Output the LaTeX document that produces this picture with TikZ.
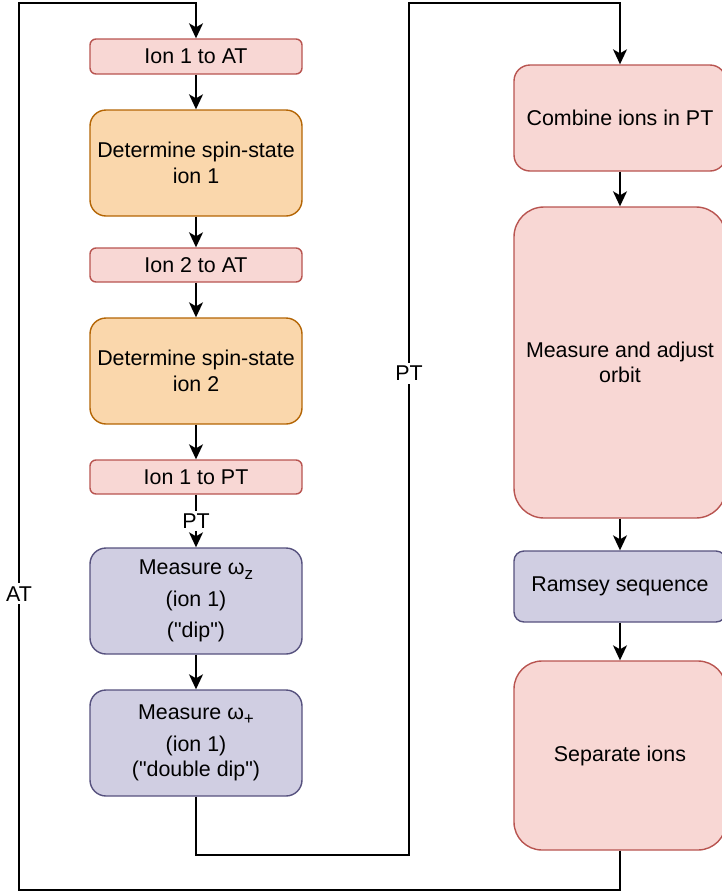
\documentclass[tikz,border=0pt]{standalone}
\usepackage{fontspec}
\setmainfont{Liberation Sans}
\usetikzlibrary{arrows.meta, calc}
\definecolor{ionred}{HTML}{F8D7D4}
\definecolor{ionredline}{HTML}{B85450}
\definecolor{spinorange}{HTML}{FAD7AC}
\definecolor{spinorangeline}{HTML}{B46504}
\definecolor{freqblue}{HTML}{D0CEE2}
\definecolor{freqblueline}{HTML}{56517E}
\newcommand{\lowsub}[1]{\raisebox{-0.45ex}{\fontsize{8.5}{10}\selectfont #1}}

\tikzset{
  box/.style={draw, line width=0.7pt, align=center, inner sep=2pt,
              minimum width=106pt},
  redbox/.style={box, fill=ionred, draw=ionredline, rounded corners=#1},
  redbox/.default=3pt,
  orangebox/.style={box, fill=spinorange, draw=spinorangeline,
                    rounded corners=8pt, minimum height=53pt},
  bluebox/.style={box, fill=freqblue, draw=freqblueline, rounded corners=#1},
  bluebox/.default=8pt,
  flow/.style={line width=0.75pt,
               -{Stealth[length=7.5pt, width=7pt, inset=2pt]}},
  lbl/.style={fill=white, inner sep=1.5pt}
}

\begin{document}
\begin{tikzpicture}[x=0.5pt, y=-0.5pt, font=\fontsize{10.7}{12.7}\selectfont]
  \useasboundingbox (0,0) rectangle (722,895);

  % left column: ions into AT, spin states, then PT
  \node[redbox, minimum height=17.5pt] (ionA) at (196,56.5) {Ion 1 to AT};
  \node[orangebox] (spinA) at (196,163) {Determine spin-state\\ion 1};
  \node[redbox, minimum height=17pt] (ionB) at (196,265) {Ion 2 to AT};
  \node[orangebox] (spinB) at (196,371) {Determine spin-state\\ion 2};
  \node[redbox, minimum height=17pt] (ionPT) at (196,477) {Ion 1 to PT};
  \node[bluebox, minimum height=53pt] (omz) at (196,601)
    {Measure ω\lowsub{z}\\[3pt](ion 1)\\[3pt](\textquotedbl dip\textquotedbl)};
  \node[bluebox, minimum height=53pt] (omp) at (196,743)
    {Measure ω\lowsub{+}\\[3pt](ion 1)\\(\textquotedbl double dip\textquotedbl)};

  % right column
  \node[redbox=8pt, minimum height=53pt] (comb) at (620,118) {Combine ions in PT};
  \node[redbox=15pt, minimum height=155.5pt] (orbit) at (620,362.5)
    {Measure and adjust\\orbit};
  \node[bluebox=5pt, minimum height=35.5pt] (ramsey) at (620,586.5) {Ramsey sequence};
  \node[redbox=14pt, minimum height=94.5pt] (sep) at (620,755.5) {Separate ions};

  % loop corners
  \coordinate (pbot) at (409,855);
  \coordinate (ptop) at (409,3);
  \coordinate (abot) at (19,890);
  \coordinate (atop) at (19,3);

  \draw[flow] (ionA) -- (spinA);
  \draw[flow] (spinA) -- (ionB);
  \draw[flow] (ionB) -- (spinB);
  \draw[flow] (spinB) -- (ionPT);
  \draw[flow] (ionPT) -- node[lbl] {PT} (omz);
  \draw[flow] (omz) -- (omp);

  \draw[flow] (omp.south) -- (omp.south |- pbot) -- (pbot)
    -- node[lbl, pos=0.565] {PT} (ptop) -| (comb.north);
  \draw[flow] (comb) -- (orbit);
  \draw[flow] (orbit) -- (ramsey);
  \draw[flow] (ramsey) -- (sep);
  \draw[flow] (sep.south) -- (sep.south |- abot) -- (abot)
    -- node[lbl, pos=0.334] {AT} (atop) -| (ionA.north);
\end{tikzpicture}
\end{document}
